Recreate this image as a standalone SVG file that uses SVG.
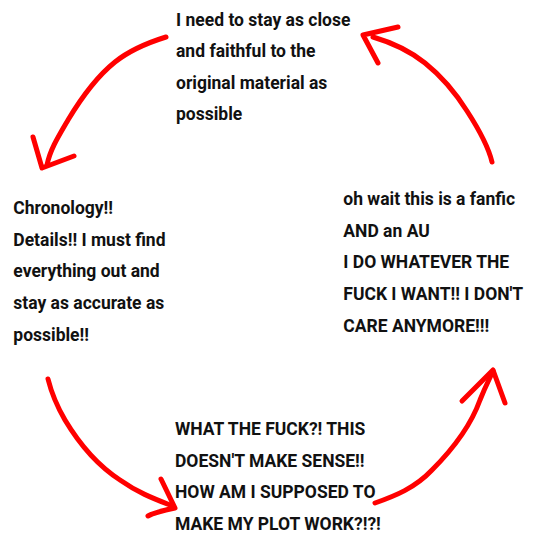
<svg xmlns="http://www.w3.org/2000/svg" width="540" height="540" viewBox="0 0 540 540">
<style>
text{font-family:Roboto,"Noto Sans","Liberation Sans",sans-serif;font-weight:700;font-size:17.5px;fill:#111}
.a{fill:none;stroke:#ff0000;stroke-width:5;stroke-linecap:round;stroke-linejoin:round}
</style>
<rect width="540" height="540" fill="#fff"/>
<g id="top">
<text x="176" y="25.5">I need to stay as close</text>
<text x="176" y="57">and faithful to the</text>
<text x="176" y="88.5">original material as</text>
<text x="176" y="120">possible</text>
</g>
<g id="left">
<text x="13.3" y="214">Chronology!!</text>
<text x="13.3" y="245.7">Details!! I must find</text>
<text x="13.3" y="277.3">everything out and</text>
<text x="13.3" y="309">stay as accurate as</text>
<text x="13.3" y="340.5">possible!!</text>
</g>
<g id="right">
<text x="343.3" y="205">oh wait this is a fanfic</text>
<text x="343.3" y="236.6">AND an AU</text>
<text x="343.3" y="268.3">I DO WHATEVER THE</text>
<text x="343.3" y="300">FUCK I WANT!! I DON'T</text>
<text x="343.3" y="331.6">CARE ANYMORE!!!</text>
</g>
<g id="bottom">
<text x="175" y="435">WHAT THE FUCK?! THIS</text>
<text x="175" y="466.6">DOESN'T MAKE SENSE!!</text>
<text x="175" y="498">HOW AM I SUPPOSED TO</text>
<text x="175" y="529.6">MAKE MY PLOT WORK?!?!</text>
</g>
<g id="connectors">
<path class="a" d="M166,37 C150,42 130,50 115,62 C95,78 80,100 68,120 C58,137 50,150 47,165"/>
<path class="a" d="M33,137 L42,168 L74,156"/>
<path class="a" d="M492,162 C488,145 478,128 467,111 C455,92 440,75 425,63 C410,51 390,42 373,37"/>
<path class="a" d="M398,27 L363,35 L378,63"/>
<path class="a" d="M48,379 C52,395 58,408 65,420 C80,445 100,467 120,480 C137,492 152,498 170,505"/>
<path class="a" d="M161,479 L175,508 C165,510 155,512 148,516"/>
<path class="a" d="M375,503 C395,496 415,488 432,470 C452,450 470,428 480,400 C486,385 490,378 493,371"/>
<path class="a" d="M462,401 L493,370 L505,403"/>
</g>
</svg>
